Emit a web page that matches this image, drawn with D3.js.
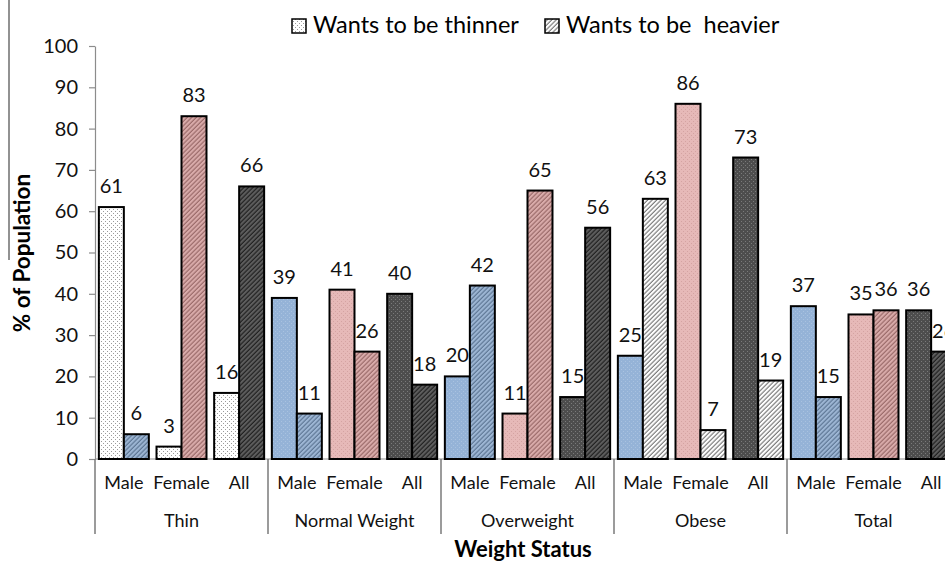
<!DOCTYPE html>
<html>
<head>
<meta charset="utf-8">
<script src="https://cdn.jsdelivr.net/npm/d3@7"></script>
<style>
  html, body { margin: 0; padding: 0; background: #fff; }
  svg { display: block; font-family: Lato, "Open Sans", sans-serif; }
  text { white-space: pre; }
</style>
</head>
<body>
<svg id="chart" width="945" height="563"></svg>
<script>
// Weight status groups and the sub-categories inside each group
const groups = ["Thin", "Normal Weight", "Overweight", "Obese", "Total"];
const sexes = ["Male", "Female", "All"];
const seriesNames = ["Wants to be thinner", "Wants to be  heavier"];
// % of population, one entry per group x sex (group-major order)
const thinnerValues = [61, 3, 16, 39, 41, 40, 20, 11, 15, 25, 86, 73, 37, 35, 36];
const heavierValues = [6, 83, 66, 11, 26, 18, 42, 65, 56, 63, 7, 19, 15, 36, 26];
const yTickValues = [0, 10, 20, 30, 40, 50, 60, 70, 80, 90, 100];
const xTitle = "Weight Status";
const yTitle = "% of Population";

const rows = [];
groups.forEach((g, gi) => sexes.forEach((s, si) => {
  const i = gi * 3 + si;
  rows.push({ group: g, sex: s, thinner: thinnerValues[i], heavier: heavierValues[i] });
}));

const svg = d3.select("#chart");
const plotLeft = 95, plotRight = 960, plotTop = 46, plotBottom = 459;

const y = d3.scaleLinear().domain([0, 100]).range([plotBottom, plotTop]);
const xGroup = d3.scaleBand().domain(groups).range([plotLeft, plotRight]).padding(0);
const xSex = d3.scaleBand().domain(sexes).range([0, xGroup.bandwidth()])
  .paddingInner(0.133).paddingOuter(0.067);
const xSeries = d3.scaleBand().domain(["thinner", "heavier"]).range([0, xSex.bandwidth()]).padding(0);

// ---- fill patterns ----
const defs = svg.append("defs");
const base = { white: "#ffffff", blue: "#95b3d7", pink: "#e6b9b8", dark: "#4d4d4d" };
const dotColor = { white: "#9a9a9a", blue: "#a9c2e0", pink: "#d4a3a2", dark: "#7a7a7a" };
const hatchBase = { white: "#ffffff", blue: "#9db6d4", pink: "#d9abaa", dark: "#5e5e5e" };
const hatchLine = { white: "#7d7d7d", blue: "#5f7896", pink: "#9c6c6b", dark: "#222222" };

Object.keys(base).forEach(k => {
  const p = defs.append("pattern").attr("id", "dot-" + k)
    .attr("patternUnits", "userSpaceOnUse").attr("width", 4).attr("height", 4);
  p.append("rect").attr("width", 4).attr("height", 4).attr("fill", base[k]);
  p.append("rect").attr("x", 1).attr("y", 1).attr("width", 1).attr("height", 1).attr("fill", dotColor[k]);
  p.append("rect").attr("x", 3).attr("y", 3).attr("width", 1).attr("height", 1).attr("fill", dotColor[k]);

  const h = defs.append("pattern").attr("id", "hatch-" + k)
    .attr("patternUnits", "userSpaceOnUse").attr("width", 3.2).attr("height", 3.2)
    .attr("patternTransform", "rotate(45)");
  h.append("rect").attr("width", 3.2).attr("height", 3.2).attr("fill", hatchBase[k]);
  h.append("line").attr("x1", 1).attr("y1", 0).attr("x2", 1).attr("y2", 3.2)
    .attr("stroke", hatchLine[k]).attr("stroke-width", 1.2);
});

const sexColor = { Male: "blue", Female: "pink", All: "dark" };
const thinnerFill = d => "url(#dot-" + (d.group === "Thin" ? "white" : sexColor[d.sex]) + ")";
const heavierFill = d => "url(#hatch-" + (d.group === "Obese" ? "white" : sexColor[d.sex]) + ")";

// ---- frame line on the left edge ----
svg.append("line").attr("x1", 9).attr("x2", 9).attr("y1", 0).attr("y2", 260)
  .attr("stroke", "#6e6e6e").attr("stroke-width", 1.5);

// ---- y axis ----
const yAxis = d3.axisLeft(y).tickValues(yTickValues).tickSize(6).tickPadding(11).tickSizeOuter(0);
const gy = svg.append("g").attr("transform", `translate(${plotLeft},0)`).call(yAxis);
gy.select(".domain").attr("stroke", "#8c8c8c").attr("stroke-width", 1.2);
gy.selectAll(".tick line").attr("stroke", "#8c8c8c").attr("stroke-width", 1.2);
gy.selectAll(".tick text").attr("font-size", 20).attr("fill", "#111").attr("font-family", "Lato, sans-serif");

// ---- x axis baseline, separators and labels ----
svg.append("line").attr("x1", plotLeft).attr("x2", plotRight).attr("y1", plotBottom).attr("y2", plotBottom)
  .attr("stroke", "#8c8c8c").attr("stroke-width", 1.2);
svg.selectAll("line.sep").data(groups.concat(["_end"])).join("line").attr("class", "sep")
  .attr("x1", (d, i) => plotLeft + i * xGroup.step()).attr("x2", (d, i) => plotLeft + i * xGroup.step())
  .attr("y1", plotBottom).attr("y2", 534)
  .attr("stroke", "#7a7a7a").attr("stroke-width", 1.5);

const gGroups = svg.selectAll("g.grp").data(groups).join("g").attr("class", "grp")
  .attr("transform", d => `translate(${xGroup(d)},0)`);

gGroups.selectAll("text.sex").data(sexes).join("text").attr("class", "sex")
  .attr("x", d => xSex(d) + xSex.bandwidth() / 2).attr("y", 489)
  .attr("text-anchor", "middle").attr("font-size", 18).attr("fill", "#111").text(d => d);

gGroups.append("text").attr("x", xGroup.bandwidth() / 2).attr("y", 527)
  .attr("text-anchor", "middle").attr("font-size", 18).attr("fill", "#111").text(d => d);

// ---- bars ----
const gBars = svg.append("g");
const barX = (d, key) => xGroup(d.group) + xSex(d.sex) + xSeries(key);

gBars.selectAll("rect.thin").data(rows).join("rect").attr("class", "thin")
  .attr("x", d => barX(d, "thinner")).attr("width", xSeries.bandwidth())
  .attr("y", d => y(d.thinner)).attr("height", d => y(0) - y(d.thinner))
  .attr("fill", thinnerFill).attr("stroke", "#000").attr("stroke-width", 2);

gBars.selectAll("rect.heavy").data(rows).join("rect").attr("class", "heavy")
  .attr("x", d => barX(d, "heavier")).attr("width", xSeries.bandwidth())
  .attr("y", d => y(d.heavier)).attr("height", d => y(0) - y(d.heavier))
  .attr("fill", heavierFill).attr("stroke", "#000").attr("stroke-width", 2);

// ---- value labels ----
const lbl = [];
rows.forEach(d => {
  lbl.push({ x: barX(d, "thinner") + xSeries.bandwidth() / 2, v: d.thinner });
  lbl.push({ x: barX(d, "heavier") + xSeries.bandwidth() / 2, v: d.heavier });
});
svg.append("g").selectAll("text").data(lbl).join("text")
  .attr("x", d => d.x).attr("y", d => y(d.v) - 14)
  .attr("text-anchor", "middle").attr("font-size", 20).attr("fill", "#111").text(d => d.v);

// ---- axis titles ----
svg.append("text").attr("x", 523).attr("y", 557).attr("text-anchor", "middle")
  .attr("font-size", 22).attr("font-weight", "bold").attr("fill", "#000").text(xTitle);
svg.append("text").attr("transform", "translate(30,253) rotate(-90)").attr("text-anchor", "middle")
  .attr("font-size", 22.5).attr("font-weight", "bold").attr("fill", "#000").text(yTitle);

// ---- legend ----
const legend = svg.append("g");
const legendItems = [
  { name: seriesNames[0], x: 292, fill: "url(#dot-white)" },
  { name: seriesNames[1], x: 545, fill: "url(#hatch-white)" }
];
legendItems.forEach(it => {
  legend.append("rect").attr("x", it.x).attr("y", 19).attr("width", 14).attr("height", 14)
    .attr("fill", it.fill).attr("stroke", "#000").attr("stroke-width", 1.5);
  legend.append("text").attr("x", it.x + 21).attr("y", 33)
    .attr("font-size", 23.5).attr("fill", "#000").text(it.name);
});
</script>
</body>
</html>
